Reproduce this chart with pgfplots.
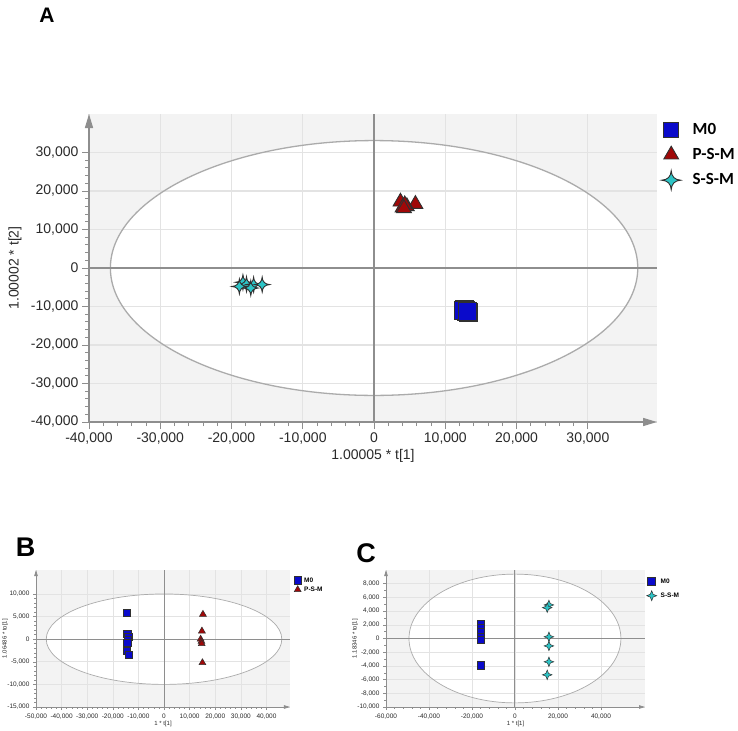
\documentclass[border=0pt]{standalone}
\usepackage{pgfplots}
\pgfplotsset{compat=1.18}
\usepackage{fontspec}
\setmainfont{Liberation Sans}
\newfontfamily\legfont{Carlito}
\usetikzlibrary{arrows.meta}

\definecolor{bggray}{HTML}{F3F3F3}
\definecolor{gridgray}{HTML}{E3E3E3}
\definecolor{ellgray}{HTML}{ABABAB}
\definecolor{axgray}{HTML}{8E8E8E}
\definecolor{tickcol}{HTML}{2A2A2A}
\definecolor{mkedge}{HTML}{303030}
\definecolor{m0blue}{HTML}{0A0ACB}
\definecolor{psmred}{HTML}{A00808}
\definecolor{ssmcyan}{HTML}{2CC4C6}

% four-pointed sparkle marker
\pgfdeclareplotmark{sparkle}{%
  \pgfpathmoveto{\pgfqpoint{0pt}{\pgfplotmarksize}}%
  \pgfpathquadraticcurveto{\pgfqpoint{0.06\pgfplotmarksize}{0.06\pgfplotmarksize}}{\pgfqpoint{\pgfplotmarksize}{0pt}}%
  \pgfpathquadraticcurveto{\pgfqpoint{0.06\pgfplotmarksize}{-0.06\pgfplotmarksize}}{\pgfqpoint{0pt}{-\pgfplotmarksize}}%
  \pgfpathquadraticcurveto{\pgfqpoint{-0.06\pgfplotmarksize}{-0.06\pgfplotmarksize}}{\pgfqpoint{-\pgfplotmarksize}{0pt}}%
  \pgfpathquadraticcurveto{\pgfqpoint{-0.06\pgfplotmarksize}{0.06\pgfplotmarksize}}{\pgfqpoint{0pt}{\pgfplotmarksize}}%
  \pgfpathclose
  \pgfusepathqfillstroke
}

\pgfplotsset{
  /pgf/number format/1000 sep={,},
  /pgf/number format/assume math mode=true,
  scoreback/.style={scale only axis, anchor=south west, hide axis, clip=false},
  scoreaxis/.style={
    scale only axis, anchor=south west,
    axis x line=bottom, axis y line=left,
    scaled ticks=false,
    tick align=outside,
    grid=major,
  },
  m0/.style={only marks, mark=square*, mark options={fill=m0blue, draw=mkedge}},
  psm/.style={only marks, mark=triangle*, mark options={fill=psmred, draw=mkedge}},
  ssm/.style={only marks, mark=sparkle, mark options={fill=ssmcyan, draw=mkedge}},
}

\begin{document}
\begin{tikzpicture}[x=1pt,y=1pt]
\path[use as bounding box, fill=white] (0,0) rectangle (738,-730);

%================ Panel A ================
\node[font=\fontsize{21}{21}\selectfont\bfseries] at (47,-15) {A};

\begin{axis}[scoreback, at={(89pt,-422pt)}, width=568pt, height=308pt,
  xmin=-40000, xmax=39700, ymin=-40000, ymax=40000]
  \fill[bggray] (rel axis cs:0,0) rectangle (rel axis cs:1,1);
  \fill[white] (axis cs:0,0) ellipse [x radius=37000, y radius=33100];
\end{axis}

\begin{axis}[scoreaxis, at={(89pt,-422pt)}, width=568pt, height=308pt,
  xmin=-40000, xmax=39700, ymin=-40000, ymax=40000,
  xtick={-40000,-30000,...,30000}, ytick={-40000,-30000,...,30000},
  minor x tick num=4, minor y tick num=4,
  major tick length=7pt, minor tick length=4pt,
  axis line style={draw=axgray, line width=1.5pt, -{Triangle[length=14pt,width=8pt]}},
  tick style={draw=axgray, line width=1pt},
  major grid style={draw=gridgray, line width=1.1pt},
  tick label style={font=\fontsize{14}{16}\selectfont, text=tickcol},
  xlabel={1.00005 * t[1]}, ylabel={1.00002 * t[2]},
  label style={font=\fontsize{14}{16}\selectfont, text=tickcol},
  xlabel style={at={([yshift=-34pt]axis description cs:0.5,0)}, anchor=center},
  ylabel style={at={([xshift=-74pt]axis description cs:0,0.5)}, anchor=center},
  legend image code/.code={\path[draw=none,fill=none] (0pt,-8pt) rectangle (16pt,8pt); \draw[#1] plot coordinates {(8pt,0pt)};},
  legend style={at={(rel axis cs:1,1)}, anchor=north west, xshift=4.5pt, yshift=-8pt,
    draw=none, fill=none, inner sep=0pt, row sep=8pt, column sep=12pt,
    font=\legfont\fontsize{17}{17}\selectfont\bfseries,
    nodes={inner sep=0pt, text height=12pt, text depth=3pt}},
  legend cell align=left]
  \draw[ellgray, line width=1.3pt] (axis cs:0,0) ellipse [x radius=37000, y radius=33100];
  \addplot[axgray, line width=1.5pt, forget plot] coordinates {(0,-40000) (0,40000)};
  \addplot[axgray, line width=1.5pt, forget plot] coordinates {(-40000,0) (39700,0)};
  % M0
  \addplot[m0, mark size=9pt, line width=0.9pt, forget plot] coordinates {
    (12700,-10700) (13200,-11600) (12800,-11100) (13000,-11300) (12600,-10900) (13100,-11200)};
  % P-S-M
  \addplot[psm, mark size=8.5pt, line width=0.9pt, forget plot] coordinates {
    (3700,17200) (5800,16600) (4600,16000) (4300,16500) (4000,15700) (4200,15500)};
  % S-S-M
  \addplot[ssm, mark size=7.5pt, line width=0.9pt, forget plot] coordinates {
    (-18400,-3700) (-17900,-4200) (-16900,-4300) (-15700,-4300) (-17300,-5200) (-18900,-4800)};
  \addlegendimage{m0, mark size=7.5pt, line width=0.9pt}
  \addlegendentry{M0}
  \addlegendimage{psm, mark size=8.5pt, line width=0.9pt}
  \addlegendentry{P-S-M}
  \addlegendimage{ssm, mark size=9.5pt, line width=0.9pt}
  \addlegendentry{S-S-M}
\end{axis}

%================ Panel B ================
\node[font=\fontsize{27}{27}\selectfont\bfseries] at (25.5,-547) {B};

\begin{axis}[scoreback, at={(36pt,-707pt)}, width=254pt, height=137pt,
  xmin=-50000, xmax=49200, ymin=-15000, ymax=15300]
  \fill[bggray] (rel axis cs:0,0) rectangle (rel axis cs:1,1);
  \fill[white] (axis cs:0,0) ellipse [x radius=46000, y radius=10000];
\end{axis}

\begin{axis}[scoreaxis, at={(36pt,-707pt)}, width=254pt, height=137pt,
  xmin=-50000, xmax=49200, ymin=-15000, ymax=15300,
  xtick={-50000,-40000,...,40000}, ytick={-15000,-10000,...,10000},
  minor x tick num=4, minor y tick num=4,
  major tick length=3pt, minor tick length=1.8pt,
  axis line style={draw=axgray, line width=0.8pt, -{Triangle[length=6pt,width=3.5pt]}},
  tick style={draw=axgray, line width=0.5pt},
  major grid style={draw=gridgray, line width=0.6pt},
  tick label style={font=\fontsize{6.5}{7}\selectfont, text=tickcol},
  xlabel={1 * t[1]}, ylabel={1.06486 * to[1]},
  label style={font=\fontsize{6}{7}\selectfont, text=tickcol},
  xlabel style={at={([yshift=-17pt]axis description cs:0.5,0)}, anchor=center},
  ylabel style={at={([xshift=-31pt]axis description cs:0,0.5)}, anchor=center},
  legend image code/.code={\path[draw=none,fill=none] (0pt,-4pt) rectangle (8pt,4pt); \draw[#1] plot coordinates {(4pt,0pt)};},
  legend style={at={(rel axis cs:1,1)}, anchor=north west, xshift=3.5pt, yshift=-6pt,
    draw=none, fill=none, inner sep=0pt, row sep=1.5pt, column sep=2.5pt,
    font=\fontsize{6.5}{7}\selectfont\bfseries,
    nodes={inner sep=0pt, text height=5pt, text depth=1pt}},
  legend cell align=left]
  \draw[ellgray, line width=0.7pt] (axis cs:0,0) ellipse [x radius=46000, y radius=10000];
  \addplot[axgray, line width=0.8pt, forget plot] coordinates {(0,-15000) (0,15300)};
  \addplot[axgray, line width=0.8pt, forget plot] coordinates {(-50000,0) (49200,0)};
  \addplot[m0, mark size=3.7pt, line width=0.5pt, forget plot] coordinates {
    (-14500,5900) (-14300,1200) (-14000,500) (-14200,-200) (-14300,-800) (-14600,-2600) (-13800,-3400)};
  \addplot[psm, mark size=4pt, line width=0.5pt, forget plot] coordinates {
    (15200,5500) (14800,1800) (14300,0) (14600,-500) (14700,-1000) (15000,-5200)};
  \addlegendimage{m0, mark size=3.7pt, line width=0.5pt}
  \addlegendentry{M0}
  \addlegendimage{psm, mark size=4pt, line width=0.5pt}
  \addlegendentry{P-S-M}
\end{axis}

%================ Panel C ================
\node[font=\fontsize{27}{27}\selectfont\bfseries] at (366,-553) {C};

\begin{axis}[scoreback, at={(386pt,-707pt)}, width=259pt, height=137pt,
  xmin=-60000, xmax=60500, ymin=-10000, ymax=10000]
  \fill[bggray] (rel axis cs:0,0) rectangle (rel axis cs:1,1);
  \fill[white] (axis cs:0,0) ellipse [x radius=49300, y radius=9400];
\end{axis}

\begin{axis}[scoreaxis, at={(386pt,-707pt)}, width=259pt, height=137pt,
  xmin=-60000, xmax=60500, ymin=-10000, ymax=10000,
  xtick={-60000,-40000,...,40000}, ytick={-10000,-8000,...,8000},
  minor x tick num=4, minor y tick num=1,
  major tick length=3pt, minor tick length=1.8pt,
  axis line style={draw=axgray, line width=0.8pt, -{Triangle[length=6pt,width=3.5pt]}},
  tick style={draw=axgray, line width=0.5pt},
  major grid style={draw=gridgray, line width=0.6pt},
  tick label style={font=\fontsize{6.5}{7}\selectfont, text=tickcol},
  xlabel={1 * t[1]}, ylabel={1.18346 * to[1]},
  label style={font=\fontsize{6}{7}\selectfont, text=tickcol},
  xlabel style={at={([yshift=-17pt]axis description cs:0.5,0)}, anchor=center},
  ylabel style={at={([xshift=-31pt]axis description cs:0,0.5)}, anchor=center},
  legend image code/.code={\path[draw=none,fill=none] (0pt,-4.5pt) rectangle (9pt,4.5pt); \draw[#1] plot coordinates {(4.5pt,0pt)};},
  legend style={at={(rel axis cs:1,1)}, anchor=north west, xshift=1.5pt, yshift=-6.5pt,
    draw=none, fill=none, inner sep=0pt, row sep=5pt, column sep=4pt,
    font=\fontsize{6.5}{7}\selectfont\bfseries,
    nodes={inner sep=0pt, text height=5pt, text depth=1pt}},
  legend cell align=left]
  \draw[ellgray, line width=0.7pt] (axis cs:0,0) ellipse [x radius=49300, y radius=9400];
  \addplot[axgray, line width=1pt, forget plot] coordinates {(0,-10000) (0,10000)};
  \addplot[axgray, line width=1pt, forget plot] coordinates {(-60000,0) (60500,0)};
  \addplot[m0, mark size=3.6pt, line width=0.5pt, forget plot] coordinates {
    (-15800,2100) (-15800,1500) (-15800,900) (-15800,300) (-15800,-200) (-15800,-3900)};
  \addplot[ssm, mark size=4.8pt, line width=0.5pt, forget plot] coordinates {
    (15800,4900) (15000,4500) (15800,250) (15800,-1080) (15800,-3400) (15000,-5300)};
  \addlegendimage{m0, mark size=4pt, line width=0.5pt}
  \addlegendentry{M0}
  \addlegendimage{ssm, mark size=5pt, line width=0.5pt}
  \addlegendentry{S-S-M}
\end{axis}
\end{tikzpicture}
\end{document}
